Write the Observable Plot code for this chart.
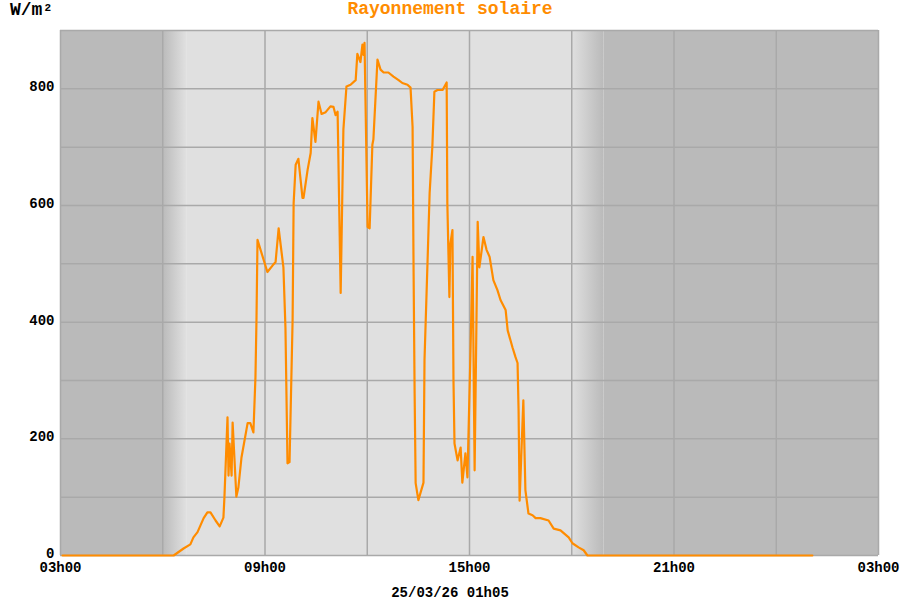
<!DOCTYPE html>
<html>
<head>
<meta charset="utf-8">
<script src="https://cdn.jsdelivr.net/npm/d3@7"></script>
<script src="https://cdn.jsdelivr.net/npm/@observablehq/plot@0.6"></script>
<style>
  html, body { margin: 0; padding: 0; background: #fff; }
  #wrap { position: relative; width: 900px; height: 600px; font-family: "Liberation Mono", "DejaVu Sans Mono", monospace; font-weight: bold; }
  #title { position: absolute; top: 0; left: 0; width: 900px; text-align: center; font-size: 18px; line-height: 18px; color: #ff8c00; }
  #unit { position: absolute; top: 1px; left: 10px; font-size: 18px; line-height: 18px; color: #000; }
  #unit sup { font-size: 11px; position: relative; top: -2px; left: 2px; vertical-align: top; }
  #stamp { position: absolute; top: 586px; left: 0; width: 900px; text-align: center; font-size: 14px; line-height: 14px; color: #000; }
  #chart { position: absolute; top: 0; left: 0; }
</style>
</head>
<body>
<div id="wrap">
  <div id="chart"></div>
  <div id="title">Rayonnement solaire</div>
  <div id="unit">W/m<sup>2</sup></div>
  <div id="stamp">25/03/26 01h05</div>
</div>
<script>
// Time in hours since 00h00 of the first day (values > 24 are the next day)
const hours = [
  3.06, 6.32, 6.61, 6.81, 6.90, 7.02, 7.11, 7.20, 7.31, 7.40, 7.55, 7.67, 7.78, 7.81,
  7.90, 7.93, 7.96, 8.02, 8.05, 8.16, 8.22, 8.31, 8.49, 8.57, 8.66, 8.72, 8.75, 8.78,
  9.07, 9.22, 9.31, 9.40, 9.54, 9.60, 9.66, 9.72, 9.81, 9.84, 9.90, 9.98, 10.10, 10.13,
  10.25, 10.34, 10.39, 10.48, 10.57, 10.66, 10.78, 10.92, 11.01, 11.07, 11.13, 11.22,
  11.30, 11.39, 11.51, 11.66, 11.71, 11.80, 11.86, 11.89, 11.92, 12.01, 12.07, 12.15,
  12.18, 12.30, 12.39, 12.48, 12.62, 12.77, 12.92, 13.03, 13.18, 13.27, 13.33, 13.36,
  13.39, 13.42, 13.50, 13.65, 13.68, 13.77, 13.83, 13.91, 13.97, 14.06, 14.21, 14.33,
  14.35, 14.41, 14.44, 14.50, 14.53, 14.56, 14.65, 14.74, 14.79, 14.88, 14.94, 15.03,
  15.09, 15.15, 15.24, 15.29, 15.41, 15.50, 15.59, 15.70, 15.82, 15.91, 16.06, 16.12,
  16.26, 16.35, 16.41, 16.44, 16.47, 16.58, 16.64, 16.73, 16.85, 16.94, 17.08, 17.32,
  17.47, 17.67, 17.91, 18.02, 18.20, 18.35, 18.46, 25.06
];
// Solar radiation, W/m²
const watts = [
  0, 0, 12, 19, 31, 40, 52, 64, 74, 74, 60, 50, 65, 100,
  237, 137, 192, 137, 228, 101, 117, 168, 227, 227, 211, 306, 404, 541,
  486, 497, 503, 561, 494, 391, 158, 160, 404, 604, 670, 680, 613, 613,
  661, 690, 750, 709, 778, 757, 760, 770, 769, 755, 761, 450,
  730, 804, 807, 815, 860, 846, 876, 858, 879, 563, 561, 704,
  713, 850, 833, 828, 828, 821, 815, 810, 807, 802, 735, 484,
  278, 124, 95, 125, 335, 506, 621, 701, 795, 798, 798, 811,
  604, 443, 535, 558, 300, 192, 163, 185, 125, 175, 134, 352,
  512, 146, 572, 494, 546, 524, 512, 472, 455, 438, 421, 386,
  357, 340, 330, 249, 94, 266, 112, 72, 69, 64, 64, 60,
  46, 43, 31, 21, 14, 9, 0, 0
];

// Night / dawn / day / dusk bands (hours)
const bandStart = [3, 6.0, 6.7, 18.0, 18.95];
const bandEnd   = [6.0, 6.7, 18.0, 18.95, 27];
const bandKind  = ["night", "dawn", "day", "dusk", "night"];

const xTicks = [3, 9, 15, 21, 27];
const xTickLabels = ["03h00", "09h00", "15h00", "21h00", "03h00"];
const xGrid = [3, 6, 9, 12, 15, 18, 21, 24, 27];
const yTicks = [0, 200, 400, 600, 800];
const yGrid = [0, 100, 200, 300, 400, 500, 600, 700, 800, 900];

const NIGHT = "#bababa", DAY = "#e0e0e0", GRID = "#a9a9a9", LINE = "#ff8c00";
const kindFill = {night: NIGHT, day: DAY, dawn: "url(#dawnGrad)", dusk: "url(#duskGrad)"};

const data = hours.map((h, i) => ({h, w: watts[i]}));
const bands = bandStart.map((s, i) => ({s, e: bandEnd[i], fill: kindFill[bandKind[i]]}));

const chart = Plot.plot({
  width: 900,
  height: 600,
  marginLeft: 60,
  marginRight: 22,
  marginTop: 30,
  marginBottom: 45,
  style: {fontFamily: "'Liberation Mono', 'DejaVu Sans Mono', monospace", fontSize: "14px", fontWeight: "bold", color: "#000", background: "transparent"},
  x: {domain: [3, 27]},
  y: {domain: [0, 900]},
  marks: [
    Plot.rect(bands, {x1: "s", x2: "e", y1: 0, y2: 900, fill: d => d.fill}),
    Plot.gridX(xGrid, {stroke: GRID, strokeOpacity: 1, strokeWidth: 1.5}),
    Plot.gridY(yGrid, {stroke: GRID, strokeOpacity: 1, strokeWidth: 1.5}),
    Plot.line(data, {x: "h", y: "w", stroke: LINE, strokeWidth: 2.2, strokeLinejoin: "round"}),
    Plot.axisX(xTicks, {tickSize: 0, tickPadding: 7, tickFormat: (d, i) => xTickLabels[i], label: null, fill: "#000"}),
    Plot.axisY(yTicks, {tickSize: 0, tickPadding: 6, dy: -2, label: null, fill: "#000"})
  ]
});

// gradients for dawn and dusk
const defs = d3.select(chart).insert("defs", ":first-child");
const dawn = defs.append("linearGradient").attr("id", "dawnGrad").attr("x1", 0).attr("x2", 1).attr("y1", 0).attr("y2", 0);
dawn.append("stop").attr("offset", "0%").attr("stop-color", NIGHT);
dawn.append("stop").attr("offset", "100%").attr("stop-color", DAY);
const dusk = defs.append("linearGradient").attr("id", "duskGrad").attr("x1", 0).attr("x2", 1).attr("y1", 0).attr("y2", 0);
dusk.append("stop").attr("offset", "0%").attr("stop-color", DAY);
dusk.append("stop").attr("offset", "100%").attr("stop-color", NIGHT);

document.getElementById("chart").appendChild(chart);
</script>
</body>
</html>
